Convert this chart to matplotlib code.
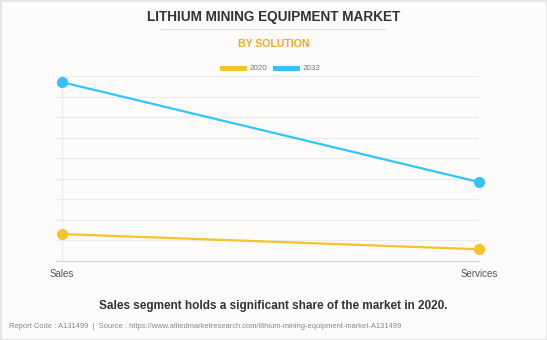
#!/usr/bin/env python3
"""Lithium mining equipment market by solution: 2020 vs 2032 line chart."""

import matplotlib

matplotlib.use("Agg")
import matplotlib.pyplot as plt
from matplotlib.patches import Rectangle
from matplotlib.lines import Line2D

plt.rcParams["font.family"] = ["Liberation Sans", "DejaVu Sans"]

categories = ["Sales", "Services"]
years = ["2020", "2032"]
values_2020 = [1.31, 0.57]
values_2032 = [8.70, 3.84]
colors = {"2020": "#F5C32C", "2032": "#33C3FF"}

W, H = 547, 340
fig = plt.figure(figsize=(W / 100, H / 100), dpi=100)
fig.patch.set_facecolor("#FDFCFA")


def fx(px):
    return px / W


def fy(py):
    return 1 - py / H


# outer border
fig.add_artist(Rectangle((0.5 / W, 0.5 / H), 1 - 1 / W, 1 - 1 / H, transform=fig.transFigure,
                         fill=False, edgecolor="#E2E2E2", linewidth=1.2))

fig.text(0.5, fy(17.5), "LITHIUM MINING EQUIPMENT MARKET", ha="center", va="center",
         fontsize=9.8, fontweight="bold", color="#333333")
fig.add_artist(Line2D([fx(161), fx(385)], [fy(28.5), fy(28.5)], transform=fig.transFigure,
                      color="#DDDDDD", linewidth=0.9))
fig.text(0.5, fy(44), "BY SOLUTION", ha="center", va="center",
         fontsize=7.6, fontweight="bold", color="#F5A623")

# legend swatches
for x0, year in zip([220, 273], years):
    fig.add_artist(Rectangle((fx(x0), fy(70.5)), fx(27), 4.8 / H, transform=fig.transFigure,
                             facecolor=colors[year], edgecolor="none"))
    fig.text(fx(x0 + 30), fy(68), year, ha="left", va="center", fontsize=5.8, color="#777777")

ax = fig.add_axes([fx(56), fy(261), fx(479 - 56), (261 - 76) / H])
ax.set_facecolor("none")
xs = list(range(len(categories)))
for year, vals in zip(years, [values_2020, values_2032]):
    ax.plot(xs, vals, color=colors[year], linewidth=1.6, marker="o", markersize=7,
            zorder=3, clip_on=False)

ax.set_xlim(-6 / 417, 1)
ax.set_ylim(0, 9)
ax.set_yticks(range(0, 10))
ax.set_yticklabels([])
ax.tick_params(axis="y", length=0)
ax.set_xticks(xs)
ax.set_xticklabels(categories, fontsize=7, color="#555555")
ax.tick_params(axis="x", length=0, pad=6)
ax.grid(True, color="#EBEBEB", linewidth=0.9)
ax.set_axisbelow(True)
for side in ["top", "right", "left"]:
    ax.spines[side].set_visible(False)
ax.spines["bottom"].set_color("#D8D8D8")
ax.spines["bottom"].set_linewidth(1.0)

fig.text(0.5, fy(305.5), "Sales segment holds a significant share of the market in 2020.",
         ha="center", va="center", fontsize=8.5, fontweight="bold", color="#333333")
fig.text(fx(9), fy(326), "Report Code : A131499  |  Source : https://www.alliedmarketresearch.com/lithium-mining-equipment-market-A131499",
         ha="left", va="center", fontsize=5.4, color="#888888")

fig.savefig("out.png", dpi=100, facecolor=fig.get_facecolor())
